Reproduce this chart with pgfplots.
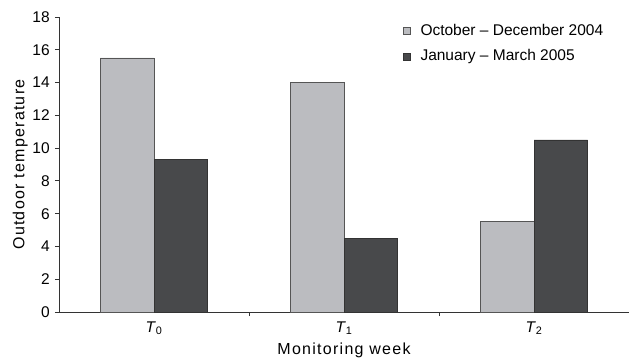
\documentclass[border=0pt]{standalone}
\usepackage{pgfplots}
\pgfplotsset{compat=1.18}
\usepackage{fontspec}
\setmainfont{Liberation Sans}
\newfontfamily\labfont[LetterSpace=8]{Liberation Sans}
\definecolor{lightbar}{HTML}{BBBCC0}
\definecolor{darkbar}{HTML}{48494B}
\definecolor{edgec}{HTML}{555555}
\definecolor{axc}{HTML}{333333}
\begin{document}
\fontsize{15.5}{18}\selectfont
\begin{tikzpicture}
\begin{axis}[
  scale only axis,
  width=570pt, height=295pt,
  xmin=-0.5, xmax=2.5, ymin=0, ymax=18,
  ybar=0pt, bar width=53.5pt,
  axis x line*=bottom, axis y line*=left,
  axis line style={draw=axc, line width=0.8pt},
  ytick={0,2,...,18},
  tick align=outside,
  major tick length=4pt,
  tick style={draw=axc, line width=0.8pt},
  xtick={0.5,1.5}, xticklabels={},
  extra x ticks={0,1,2},
  extra x tick labels={\textit{T}\textsubscript{0},\textit{T}\textsubscript{1},\textit{T}\textsubscript{2}},
  extra x tick style={major tick length=0pt},
  xticklabel style={yshift=-4pt},
  /pgf/number format/assume math mode=true,
  tick label style={font=\fontsize{15.5}{18}\selectfont, text=black},
  ylabel={Outdoor temperature},
  xlabel={Monitoring week},
  label style={font=\labfont\fontsize{16}{18}\selectfont},
  ylabel style={at={(axis description cs:-0.068,0.5)}, anchor=center, rotate=0},
  xlabel style={at={(axis description cs:0.5,-0.129)}, anchor=center},
  legend style={draw=none, fill=none, at={(axis description cs:0.603,0.983)}, anchor=north west,
    font=\fontsize{15.5}{18}\selectfont, row sep=8pt, inner sep=0pt,
    /tikz/every odd column/.append style={column sep=8pt}},
  legend cell align=left,
  legend image code/.code={\draw[#1, line width=0.6pt] (0pt,-3.5pt) rectangle (7pt,3.5pt);},
  every axis plot/.append style={draw=edgec, line width=0.8pt},
  clip=false,
]
\addplot[fill=lightbar] coordinates {(0,15.5) (1,14) (2,5.5)};
\addplot[fill=darkbar, draw=black!80] coordinates {(0,9.3) (1,4.5) (2,10.5)};
\legend{October -- December 2004, January -- March 2005}
\coordinate (O) at (rel axis cs:0,0);
\end{axis}
\pgfresetboundingbox
\path ([shift={(-59pt,-49pt)}]O) rectangle ++(629pt,361pt);
\end{tikzpicture}
\end{document}
